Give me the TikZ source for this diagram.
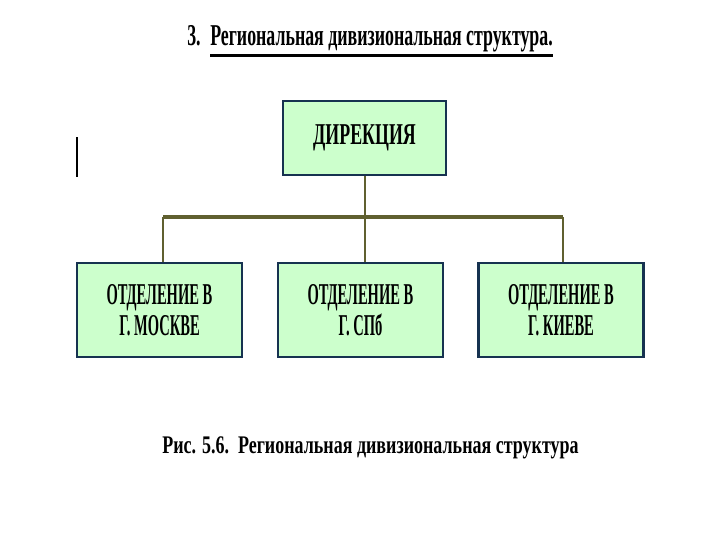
\documentclass[tikz,border=0pt]{standalone}
\usepackage{fontspec}
\newfontfamily\condfont[FakeStretch=0.59]{Liberation Serif}
\newfontfamily\narrowfont[FakeStretch=0.48]{Liberation Serif}
\newfontfamily\capfont[FakeStretch=0.71]{Liberation Serif}
\definecolor{boxfill}{RGB}{204,255,204}
\definecolor{boxline}{RGB}{22,50,80}
\definecolor{busline}{RGB}{96,96,48}

\tikzset{otdel/.style = {draw = boxline, fill = boxfill, line width = 1.9pt,
                         minimum width = 123.75pt, minimum height = 70.5pt,
                         align = center, font = \narrowfont\bfseries\fontsize{22.7}{23.3}\selectfont},
         busline/.style = {draw = busline, line width = 1.5pt}
        }

\begin{document}
\begin{tikzpicture}[x=0.75pt,y=-0.75pt]
\useasboundingbox (0,0) rectangle (720,540);
\tikzstyle{every node}=[inner sep=0pt]
% title
\node[anchor=base west, font=\condfont\bfseries\fontsize{22.7}{26}\selectfont] at (187,45) (num) {3.};
\node[anchor=base west, font=\condfont\bfseries\fontsize{22.7}{26}\selectfont] at (210,45) (ttl) {Региональная дивизиональная структура.};
\draw[line width=2.3pt] ([yshift=-2.5pt]ttl.south west) -- ([yshift=-2.5pt]ttl.south east);
% boxes
\node[otdel, minimum width = 122.25pt, minimum height = 55.5pt,
      font = \condfont\bfseries\fontsize{22.7}{23.3}\selectfont] at (364.5,138) (dir) {ДИРЕКЦИЯ};
\node[otdel] at (159.5,310) (msk) {ОТДЕЛЕНИЕ В\\Г. МОСКВЕ};
\node[otdel] at (360.5,310) (spb) {ОТДЕЛЕНИЕ В\\Г. СПб};
\node[otdel] at (561,310) (kiev) {ОТДЕЛЕНИЕ В\\Г. КИЕВЕ};
\coordinate (busl) at (163,217);
\coordinate (busr) at (563,217);
\draw[busline, line width = 3pt] (busl) -- (busr);
\draw[busline] (dir.south) -- (dir.south |- spb.north);
\draw[busline] (busl) -- (busl |- msk.north);
\draw[busline] (busr) -- (busr |- kiev.north);
% caption
\node[anchor=base west, font=\capfont\bfseries\fontsize{19}{22}\selectfont] at (162,453) (cap) {Рис. 5.6.\ \ Региональная дивизиональная структура};
\draw[line width=1.5pt] (77,137) -- (77,177);
\end{tikzpicture}
\end{document}
